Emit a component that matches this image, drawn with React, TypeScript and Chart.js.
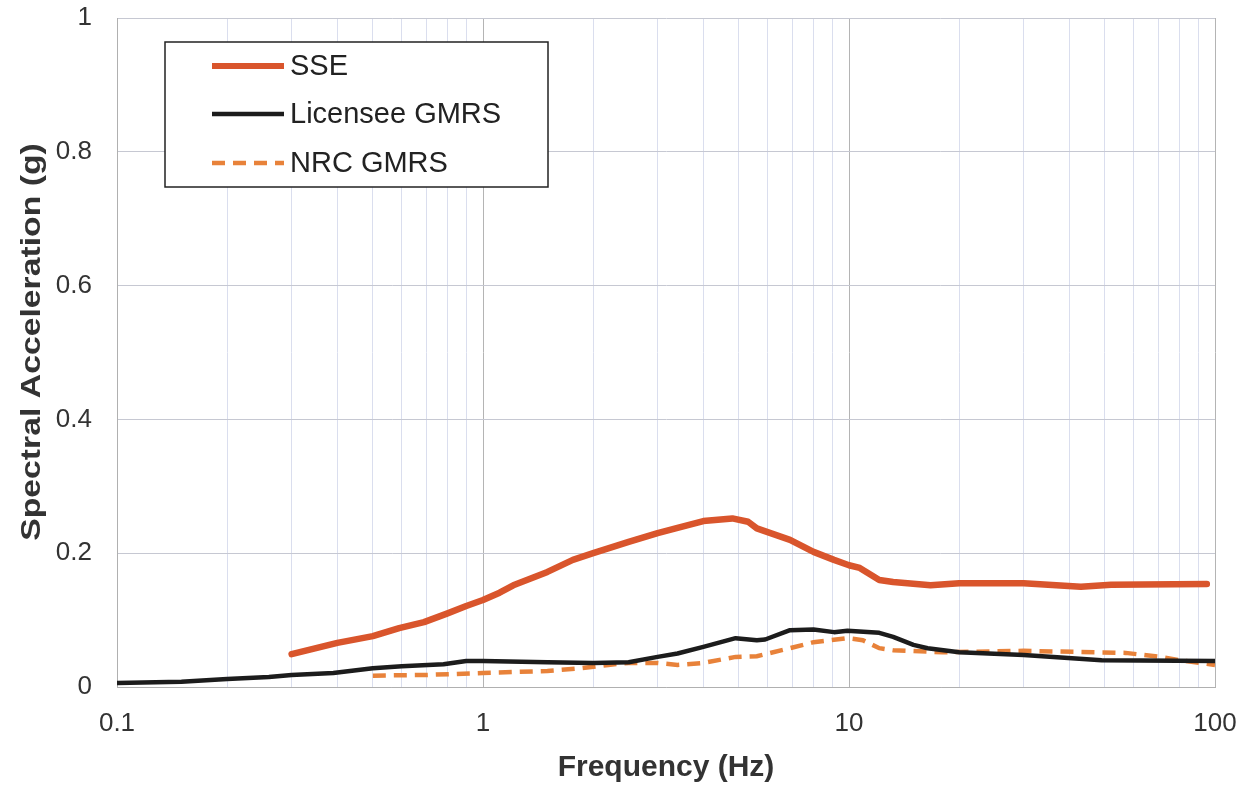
import React, { useEffect, useRef } from "react";
import { Chart, registerables } from "chart.js";

Chart.register(...registerables);

// ---- Data ----
const sseFreq = [0.3, 0.4, 0.5, 0.59, 0.69, 0.8, 0.9, 1.0, 1.11, 1.21, 1.5, 1.76, 2.0, 2.5, 3.0, 3.4, 4.0, 4.8, 5.3, 5.6, 6.9, 8.0, 9.1, 10, 10.7, 12.1, 13.2, 16.7, 20, 30, 43, 52, 95];
const sseVals = [0.049, 0.066, 0.076, 0.088, 0.097, 0.11, 0.121, 0.13, 0.141, 0.152, 0.172, 0.19, 0.2, 0.217, 0.23, 0.238, 0.248, 0.252, 0.247, 0.237, 0.22, 0.202, 0.19, 0.182, 0.178, 0.16, 0.157, 0.152, 0.155, 0.155, 0.15, 0.153, 0.154];

const licFreq = [0.1, 0.15, 0.2, 0.26, 0.3, 0.39, 0.5, 0.6, 0.78, 0.9, 1.0, 1.5, 2.0, 2.5, 3.0, 3.4, 4.0, 4.9, 5.6, 5.9, 6.9, 8.0, 9.1, 9.9, 12.1, 13.2, 15, 16.4, 20, 30, 49, 100];
const licVals = [0.006, 0.008, 0.012, 0.015, 0.018, 0.021, 0.028, 0.031, 0.034, 0.039, 0.039, 0.037, 0.036, 0.037, 0.045, 0.05, 0.06, 0.073, 0.07, 0.071, 0.085, 0.086, 0.082, 0.084, 0.081, 0.075, 0.063, 0.058, 0.052, 0.048, 0.04, 0.039];

const nrcFreq = [0.5, 0.7, 1.0, 1.5, 1.84, 2.2, 2.5, 3.0, 3.4, 4.0, 4.9, 5.6, 6.9, 8.0, 9.9, 10.9, 12.1, 13.2, 18, 30, 57, 71, 80, 100];
const nrcVals = [0.017, 0.018, 0.021, 0.024, 0.028, 0.033, 0.036, 0.036, 0.033, 0.036, 0.045, 0.046, 0.058, 0.067, 0.073, 0.07, 0.058, 0.055, 0.052, 0.054, 0.051, 0.045, 0.04, 0.033];

const xTickValues = [0.1, 0.2, 0.3, 0.4, 0.5, 0.6, 0.7, 0.8, 0.9, 1, 2, 3, 4, 5, 6, 7, 8, 9, 10, 20, 30, 40, 50, 60, 70, 80, 90, 100];
const xMajorTicks = [0.1, 1, 10, 100];
const xTickLabels = ["0.1", "1", "10", "100"];
const yTickLabels = ["0", "0.2", "0.4", "0.6", "0.8", "1"];

const seriesNames = ["SSE", "Licensee GMRS", "NRC GMRS"];
const xTitle = "Frequency (Hz)";
const yTitle = "Spectral Acceleration (g)";

const SSE_COLOR = "#D9552C";
const LIC_COLOR = "#1C1C1C";
const NRC_COLOR = "#E8823A";

const toPoints = (xs: number[], ys: number[]) => xs.map((x, i) => ({ x, y: ys[i] }));

const overlayPlugin = {
  id: "overlay",
  afterDraw(chart: any) {
    const ctx = chart.ctx as CanvasRenderingContext2D;
    // Y axis title (stretched along its length as in the reference)
    ctx.save();
    ctx.translate(33, 342);
    ctx.rotate(-Math.PI / 2);
    ctx.scale(1.25, 1);
    ctx.font = "bold 27px Arial, 'Liberation Sans', sans-serif";
    ctx.fillStyle = "#333333";
    ctx.textAlign = "center";
    ctx.textBaseline = "middle";
    ctx.fillText(yTitle, 0, 0);
    ctx.restore();

    // Legend box
    ctx.save();
    ctx.fillStyle = "#ffffff";
    ctx.fillRect(165, 42, 383, 145);
    ctx.strokeStyle = "#222222";
    ctx.lineWidth = 1.5;
    ctx.strokeRect(165, 42, 383, 145);
    const rows = [
      { y: 66, color: SSE_COLOR, width: 6, dash: [] as number[] },
      { y: 114, color: LIC_COLOR, width: 4.5, dash: [] as number[] },
      { y: 163, color: NRC_COLOR, width: 4.5, dash: [13, 8] },
    ];
    rows.forEach((r, i) => {
      ctx.beginPath();
      ctx.setLineDash(r.dash);
      ctx.strokeStyle = r.color;
      ctx.lineWidth = r.width;
      ctx.lineCap = "butt";
      ctx.moveTo(212, r.y);
      ctx.lineTo(284, r.y);
      ctx.stroke();
      ctx.setLineDash([]);
      ctx.fillStyle = "#222222";
      ctx.font = "29px Arial, 'Liberation Sans', sans-serif";
      ctx.textAlign = "left";
      ctx.textBaseline = "middle";
      ctx.fillText(seriesNames[i], 290, r.y + 1);
    });
    ctx.restore();
  },
};

export default function App() {
  const canvasRef = useRef<HTMLCanvasElement | null>(null);

  useEffect(() => {
    document.body.style.margin = "0";
    const canvas = canvasRef.current;
    if (!canvas) return;
    const chart = new Chart(canvas, {
      type: "line",
      data: {
        datasets: [
          {
            label: seriesNames[0],
            data: toPoints(sseFreq, sseVals),
            borderColor: SSE_COLOR,
            backgroundColor: SSE_COLOR,
            borderWidth: 6.5,
            pointRadius: 0,
            tension: 0,
            borderCapStyle: "round",
            borderJoinStyle: "round",
          },
          {
            label: seriesNames[1],
            data: toPoints(licFreq, licVals),
            borderColor: LIC_COLOR,
            backgroundColor: LIC_COLOR,
            borderWidth: 4.5,
            pointRadius: 0,
            tension: 0,
            borderJoinStyle: "round",
          },
          {
            label: seriesNames[2],
            data: toPoints(nrcFreq, nrcVals),
            borderColor: NRC_COLOR,
            backgroundColor: NRC_COLOR,
            borderWidth: 4.5,
            borderDash: [13, 8],
            pointRadius: 0,
            tension: 0,
          },
        ],
      },
      options: {
        responsive: false,
        animation: false,
        devicePixelRatio: 1,
        layout: { padding: { left: 0, right: 40, top: 18, bottom: 0 } },
        plugins: {
          legend: { display: false },
          tooltip: { enabled: false },
        },
        scales: {
          x: {
            type: "logarithmic",
            min: 0.1,
            max: 100,
            afterBuildTicks: (scale: any) => {
              scale.ticks = xTickValues.map((v) => ({ value: v, major: xMajorTicks.includes(v) }));
            },
            afterFit: (scale: any) => {
              scale.height = 103;
            },
            ticks: {
              autoSkip: false,
              maxRotation: 0,
              minRotation: 0,
              padding: 0,
              color: "#333333",
              font: { family: "Arial, 'Liberation Sans', sans-serif", size: 26 },
              callback: (value: any) => {
                const idx = xMajorTicks.indexOf(Number(value));
                return idx >= 0 ? xTickLabels[idx] : "";
              },
            },
            grid: {
              drawTicks: true,
              tickLength: 21,
              tickColor: "rgba(0,0,0,0)",
              lineWidth: 1,
              color: (ctx: any) =>
                ctx.tick && xMajorTicks.includes(ctx.tick.value) ? "#b4b4b4" : "#dadeee",
            },
            border: { display: true, color: "#b0b0b0", width: 1 },
            title: {
              display: true,
              text: xTitle,
              color: "#333333",
              font: { family: "Arial, 'Liberation Sans', sans-serif", size: 30, weight: "bold" },
              padding: { top: 0, bottom: 4 },
            },
          },
          y: {
            type: "linear",
            min: 0,
            max: 1,
            afterFit: (scale: any) => {
              scale.width = 117;
            },
            ticks: {
              stepSize: 0.2,
              padding: 0,
              color: "#333333",
              font: { family: "Arial, 'Liberation Sans', sans-serif", size: 26 },
              callback: (value: any) => {
                const idx = Math.round(Number(value) / 0.2);
                return yTickLabels[idx] ?? "";
              },
            },
            grid: {
              drawTicks: true,
              tickLength: 25,
              tickColor: "rgba(0,0,0,0)",
              color: "#c6c8d2",
              lineWidth: 1,
            },
            border: { display: true, color: "#b0b0b0", width: 1 },
            title: { display: false },
          },
        },
      },
      plugins: [overlayPlugin],
    } as any);
    return () => chart.destroy();
  }, []);

  return (
    <div style={{ width: 1255, height: 790, background: "#ffffff" }}>
      <canvas ref={canvasRef} width={1255} height={790} style={{ display: "block", width: 1255, height: 790 }} />
    </div>
  );
}
